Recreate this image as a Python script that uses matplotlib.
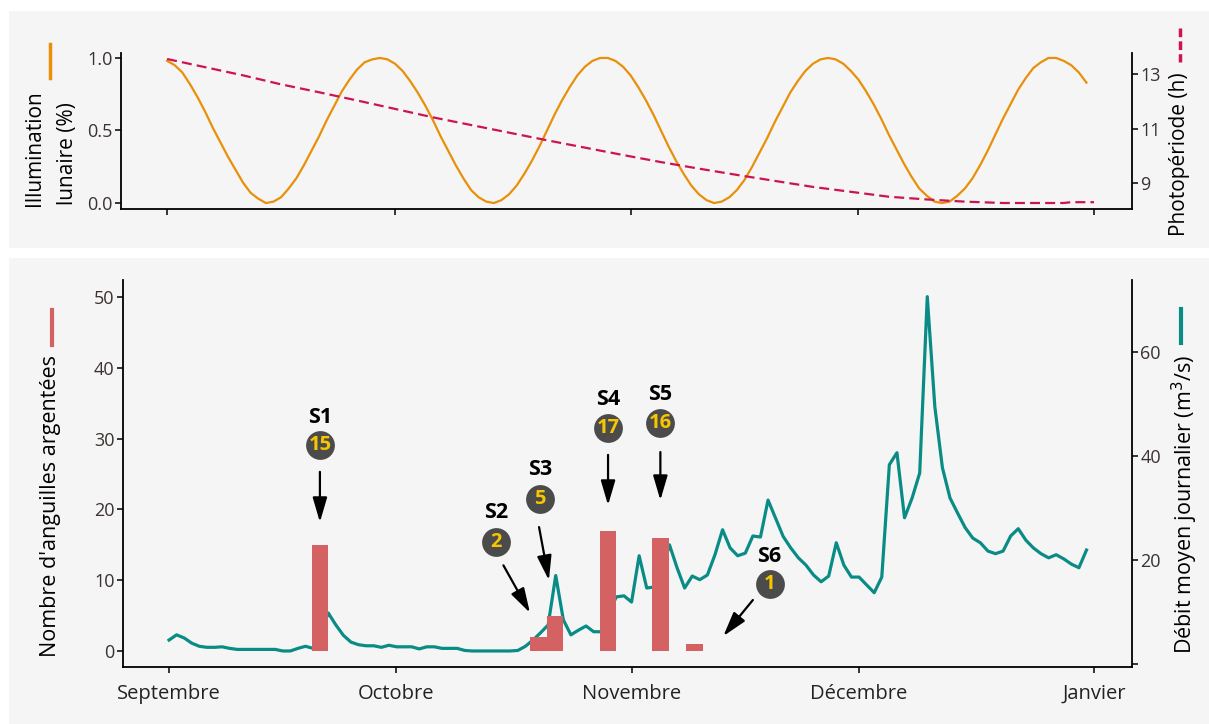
import numpy as np
import matplotlib
matplotlib.use("Agg")
import matplotlib.pyplot as plt
from matplotlib.patches import Rectangle
from matplotlib.lines import Line2D

plt.rcParams['font.family'] = ['Open Sans', 'DejaVu Sans']

# --- data (days counted from 1 September) ---
month_days = [0, 30, 61, 91, 122]
month_labels = ['Septembre', 'Octobre', 'Novembre', 'Décembre', 'Janvier']

# moon illumination, one value per day (day 0..121)
moon = [0.98, 0.95, 0.90, 0.82, 0.73, 0.63, 0.52, 0.42, 0.32, 0.23,
        0.14, 0.07, 0.03, 0.00, 0.01, 0.04, 0.10, 0.17, 0.26, 0.36,
        0.46, 0.57, 0.67, 0.77, 0.85, 0.92, 0.97, 0.99, 1.00, 0.99,
        0.96, 0.91, 0.84, 0.76, 0.67, 0.57, 0.46, 0.36, 0.26, 0.17,
        0.09, 0.04, 0.01, 0.00, 0.02, 0.06, 0.12, 0.20, 0.29, 0.39,
        0.50, 0.61, 0.71, 0.80, 0.88, 0.94, 0.98, 1.00, 1.00, 0.98,
        0.94, 0.88, 0.80, 0.71, 0.61, 0.50, 0.39, 0.29, 0.20, 0.12,
        0.06, 0.02, 0.00, 0.01, 0.04, 0.09, 0.16, 0.25, 0.35, 0.45,
        0.56, 0.66, 0.76, 0.84, 0.91, 0.96, 0.99, 1.00, 0.99, 0.96,
        0.91, 0.85, 0.77, 0.68, 0.58, 0.47, 0.37, 0.27, 0.18, 0.10,
        0.05, 0.01, 0.00, 0.01, 0.05, 0.10, 0.17, 0.26, 0.36, 0.47,
        0.58, 0.68, 0.78, 0.86, 0.93, 0.97, 1.00, 1.00, 0.98, 0.95,
        0.90, 0.83]

# photoperiod (h)
photo_days = [0, 5, 10, 15, 20, 25, 30, 35, 40, 45, 50, 55, 60, 65, 70,
              75, 80, 85, 90, 95, 100, 105, 110, 115, 118, 119, 122]
photo = [13.55, 13.25, 12.95, 12.62, 12.33, 12.03, 11.72, 11.41, 11.13,
         10.85, 10.57, 10.30, 10.03, 9.77, 9.53, 9.30, 9.08, 8.86, 8.68,
         8.50, 8.40, 8.32, 8.27, 8.27, 8.27, 8.30, 8.30]

# daily mean discharge (m3/s), day 0..121
flow = [4.6, 5.6, 5.0, 4.0, 3.4, 3.2, 3.2, 3.3, 3.0, 2.8,
        2.8, 2.8, 2.8, 2.8, 2.8, 2.5, 2.5, 3.0, 3.4, 3.0,
        6.0, 9.8, 7.5, 5.5, 4.2, 3.7, 3.5, 3.5, 3.2, 3.6,
        3.3, 3.3, 3.3, 2.9, 3.3, 3.3, 3.0, 3.0, 3.0, 2.6,
        2.5, 2.5, 2.5, 2.5, 2.5, 2.5, 2.6, 3.4, 4.6, 6.0,
        7.5, 17.0, 8.5, 5.6, 6.5, 7.3, 6.2, 6.2, 10.0, 12.9,
        13.1, 11.9, 20.8, 14.6, 14.8, 18.0, 22.9, 18.5, 14.6, 16.9,
        16.2, 17.1, 21.0, 25.8, 22.3, 20.8, 21.3, 24.6, 24.4, 31.5,
        28.0, 24.5, 22.3, 20.4, 19.0, 17.1, 15.8, 16.9, 23.3, 19.0,
        16.7, 16.7, 15.2, 13.7, 16.7, 38.3, 40.6, 28.1, 31.9, 36.7,
        70.6, 49.4, 37.7, 31.9, 29.0, 26.2, 24.2, 23.3, 21.7, 21.2,
        21.7, 24.6, 26.0, 23.8, 22.3, 21.2, 20.4, 21.0, 20.2, 19.2,
        18.5, 21.9]

# silver eel catches per session
sessions = ['S1', 'S2', 'S3', 'S4', 'S5', 'S6']
session_day = [19.9, 48.7, 50.9, 57.9, 64.8, 69.3]
eels = [15, 2, 5, 17, 16, 1]

# annotation layout (day, count units)
label_pos = [(19.9, 33.0), (43.1, 19.5), (48.9, 25.6), (57.9, 35.5), (64.8, 36.2), (79.2, 13.3)]
circle_pos = [(19.9, 29.1), (43.1, 15.4), (48.9, 21.5), (57.9, 31.5), (64.8, 32.2), (79.2, 9.5)]
arrow_from = [(19.9, 25.3), (44.1, 12.1), (48.8, 17.5), (57.9, 27.7), (64.8, 28.1), (77.0, 7.2)]
arrow_to = [(19.9, 18.2), (47.6, 5.4), (50.1, 10.0), (57.9, 20.6), (64.8, 21.3), (73.1, 2.1)]

c_moon = '#E8900A'
c_photo = '#CC1450'
c_flow = '#0A8C86'
c_bar = '#D46262'
c_tick = '#3b3131'
bg = '#F5F5F5'

W, H = 1209, 724
fig = plt.figure(figsize=(W / 100, H / 100), dpi=100)
fig.patch.set_facecolor('white')
fig.patches.append(Rectangle((9 / W, 1 - 248 / H), 1, 237 / H, transform=fig.transFigure,
                             facecolor=bg, edgecolor='none', zorder=-10))
fig.patches.append(Rectangle((9 / W, 0), 1, 1 - 258 / H, transform=fig.transFigure,
                             facecolor=bg, edgecolor='none', zorder=-10))

xlim = (-6.07, 127.0)


def style(ax, sides):
    for s in ['top', 'left', 'right', 'bottom']:
        ax.spines[s].set_visible(s in sides)
        ax.spines[s].set_linewidth(1.3)
        ax.spines[s].set_color('black')
    ax.patch.set_visible(False)
    ax.tick_params(length=4, width=1.1, color='black', labelcolor=c_tick, labelsize=13, pad=2)


# ---------------- top panel ----------------
axt = fig.add_axes([121 / W, 1 - 209 / H, (1132 - 121) / W, 156 / H])
axt2 = axt.twinx()
axt.plot(np.arange(len(moon)), moon, color=c_moon, lw=1.6)
axt2.plot(photo_days, photo, color=c_photo, lw=1.6, dashes=(4.5, 2.3))
axt.set_xlim(*xlim)
axt.set_ylim(-0.041, 1.034)
axt.set_yticks([0, 0.5, 1.0])
axt.set_yticklabels(['0.0', '0.5', '1.0'])
axt2.set_ylim(8.05, 13.77)
axt2.set_yticks([9, 11, 13])
axt.set_xticks(month_days)
axt.set_xticklabels([])
style(axt, ['left', 'bottom'])
style(axt2, ['right'])

fig.text(35 / W, 1 - 148 / H, 'Illumination', rotation=90, ha='center', va='center', fontsize=15)
fig.text(67 / W, 1 - 154 / H, 'lunaire (%)', rotation=90, ha='center', va='center', fontsize=15)
fig.lines.append(Line2D([50 / W, 50 / W], [1 - 44 / H, 1 - 78 / H], transform=fig.transFigure,
                        color=c_moon, lw=2.5))
fig.text(1180 / W, 1 - 154 / H, 'Photopériode (h)', rotation=90, ha='center', va='center', fontsize=15)
fig.lines.append(Line2D([1180 / W, 1180 / W], [1 - 28 / H, 1 - 62 / H], transform=fig.transFigure,
                        color=c_photo, lw=2.5, dashes=(2.5, 1.2)))

# ---------------- bottom panel ----------------
ax = fig.add_axes([123 / W, 1 - 667 / H, (1132 - 123) / W, 387 / H])
ax2 = ax.twinx()
ax2.plot(np.arange(len(flow)), flow, color=c_flow, lw=2.3)
ax.bar(session_day, eels, width=2.2, color=c_bar, zorder=3)
ax.set_zorder(ax2.get_zorder() + 1)

ax.set_xlim(*xlim)
ax.set_ylim(-2.26, 52.4)
ax.set_yticks([0, 10, 20, 30, 40, 50])
ax2.set_ylim(-0.58, 73.8)
ax2.set_yticks([0, 20, 40, 60])
ax2.set_yticklabels(['', '20', '40', '60'])
ax.set_xticks(month_days)
ax.set_xticklabels(month_labels)
style(ax, ['left', 'bottom'])
style(ax2, ['right'])
ax.tick_params(axis='x', labelsize=14.5, labelcolor='#222222', pad=8)

for i in range(len(sessions)):
    ax.text(*label_pos[i], sessions[i], ha='center', va='center', fontsize=15.5,
            fontweight='bold', color='black', zorder=5)
    ax.scatter(*circle_pos[i], s=430, color='#4B4B4B', zorder=5, linewidths=0)
    ax.text(*circle_pos[i], str(eels[i]), ha='center', va='center', fontsize=14.5,
            fontweight='bold', color='#F7C600', zorder=6)
    ax.annotate('', xy=arrow_to[i], xytext=arrow_from[i],
                arrowprops=dict(arrowstyle='-|>,head_length=0.75,head_width=0.22',
                                mutation_scale=20, color='black', lw=1.6,
                                shrinkA=0, shrinkB=0), zorder=5)

fig.text(51 / W, 1 - 506 / H, "Nombre d'anguilles argentées", rotation=90, ha='center', va='center',
         fontsize=15.5)
fig.lines.append(Line2D([52 / W, 52 / W], [1 - 310 / H, 1 - 345 / H], transform=fig.transFigure,
                        color=c_bar, lw=3))
fig.text(1185 / W, 1 - 504 / H, 'Débit moyen journalier (m$^3$/s)', rotation=90, ha='center',
         va='center', fontsize=15.5)
fig.lines.append(Line2D([1181 / W, 1181 / W], [1 - 309 / H, 1 - 343 / H], transform=fig.transFigure,
                        color=c_flow, lw=3))

fig.savefig('out.png', dpi=100, facecolor=fig.get_facecolor())
